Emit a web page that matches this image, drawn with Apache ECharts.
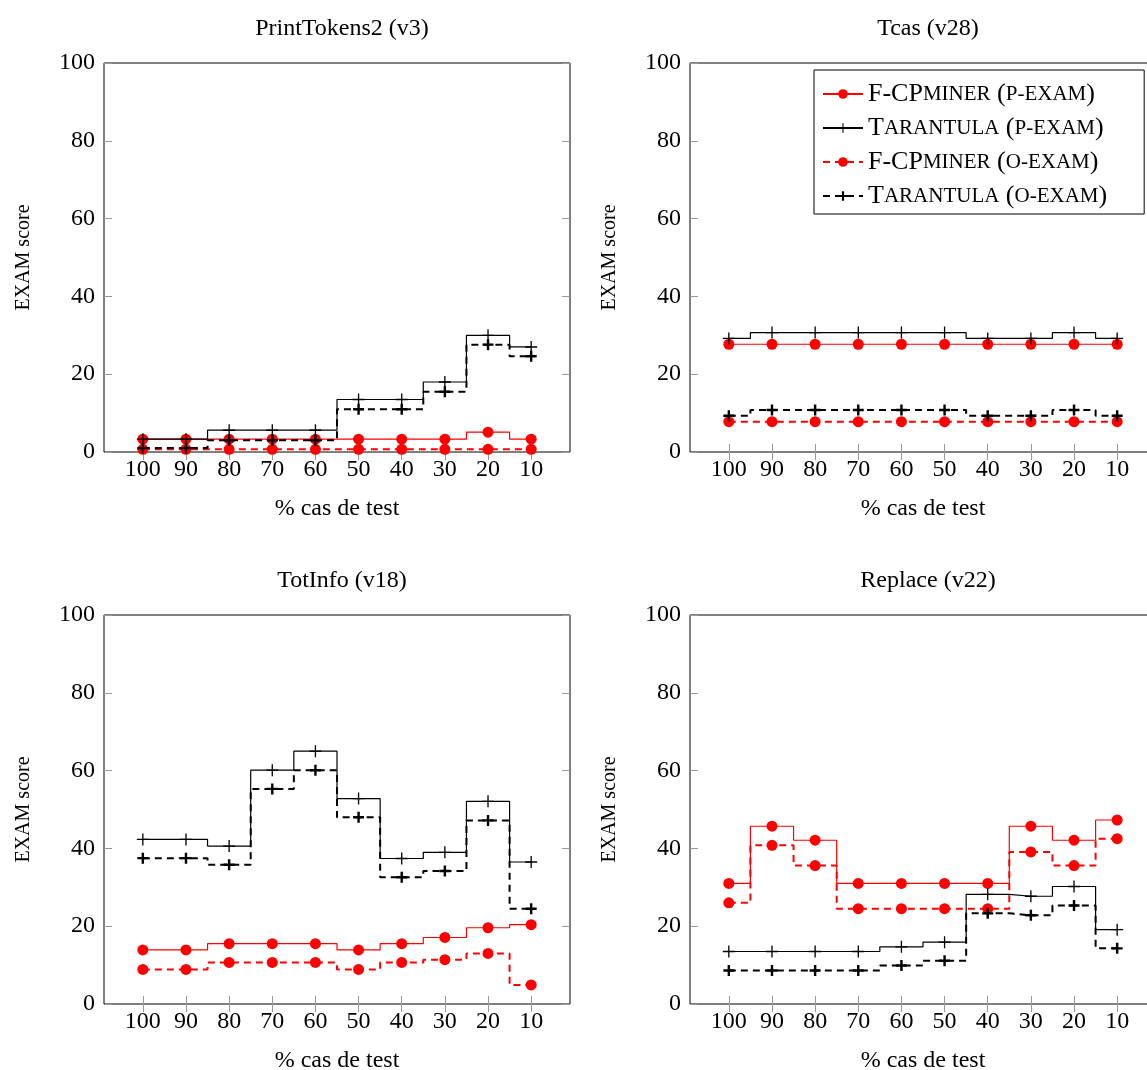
<!DOCTYPE html>
<html><head><meta charset="utf-8">
<script src="https://cdn.jsdelivr.net/npm/echarts@6/dist/echarts.min.js"></script>
<style>html,body{margin:0;padding:0;background:#fff}#c{width:1147px;height:1070px}</style>
</head><body><div id="c"></div>
<script>
const categories = [100, 90, 80, 70, 60, 50, 40, 30, 20, 10];
const yTicks = [0, 20, 40, 60, 80, 100];
const seriesNames = ['F-CPminer (p-exam)', 'Tarantula (p-exam)', 'F-CPminer (o-exam)', 'Tarantula (o-exam)'];
const panelTitles = ['PrintTokens2 (v3)', 'Tcas (v28)', 'TotInfo (v18)', 'Replace (v22)'];

// PrintTokens2 (v3)
const pt2_fcp_p = [3.3, 3.3, 3.3, 3.3, 3.3, 3.3, 3.3, 3.3, 5.1, 3.3];
const pt2_tar_p = [3.3, 3.3, 5.6, 5.6, 5.6, 13.5, 13.5, 18.0, 30.0, 27.0];
const pt2_fcp_o = [0.7, 0.7, 0.7, 0.7, 0.7, 0.7, 0.7, 0.7, 0.7, 0.7];
const pt2_tar_o = [1.0, 1.0, 3.0, 3.0, 3.0, 11.0, 11.0, 15.5, 27.6, 24.6];
// Tcas (v28)
const tcas_fcp_p = [27.7, 27.7, 27.7, 27.7, 27.7, 27.7, 27.7, 27.7, 27.7, 27.7];
const tcas_tar_p = [29.2, 30.7, 30.7, 30.7, 30.7, 30.7, 29.2, 29.2, 30.7, 29.2];
const tcas_fcp_o = [7.8, 7.8, 7.8, 7.8, 7.8, 7.8, 7.8, 7.8, 7.8, 7.8];
const tcas_tar_o = [9.3, 10.8, 10.8, 10.8, 10.8, 10.8, 9.3, 9.3, 10.8, 9.3];
// TotInfo (v18)
const tot_fcp_p = [13.9, 13.9, 15.5, 15.5, 15.5, 13.9, 15.5, 17.1, 19.6, 20.4];
const tot_tar_p = [42.3, 42.3, 40.6, 60.1, 65.0, 52.8, 37.4, 39.0, 52.1, 36.5];
const tot_fcp_o = [8.9, 8.9, 10.7, 10.7, 10.7, 8.9, 10.7, 11.4, 13.0, 4.9];
const tot_tar_o = [37.5, 37.5, 35.8, 55.3, 60.1, 48.0, 32.6, 34.2, 47.2, 24.5];
// Replace (v22)
const rep_fcp_p = [31.0, 45.7, 42.1, 31.0, 31.0, 31.0, 31.0, 45.7, 42.1, 47.3];
const rep_tar_p = [13.5, 13.5, 13.5, 13.5, 14.7, 15.9, 28.2, 27.7, 30.2, 19.1];
const rep_fcp_o = [26.0, 40.8, 35.6, 24.5, 24.5, 24.5, 24.5, 39.1, 35.6, 42.5];
const rep_tar_o = [8.6, 8.6, 8.6, 8.6, 9.9, 11.1, 23.3, 22.8, 25.3, 14.3];

const panels = [
  [pt2_fcp_p, pt2_tar_p, pt2_fcp_o, pt2_tar_o],
  [tcas_fcp_p, tcas_tar_p, tcas_fcp_o, tcas_tar_o],
  [tot_fcp_p, tot_tar_p, tot_fcp_o, tot_tar_o],
  [rep_fcp_p, rep_tar_p, rep_fcp_o, rep_tar_o]
];

const FONT = 'Liberation Serif';
const gridPos = [
  {left: 104, top: 63}, {left: 690, top: 63},
  {left: 104, top: 615}, {left: 690, top: 615}
];
const GW = 466, GH = 389;

const plusThin = 'path://M-0.11,-1 L0.11,-1 L0.11,-0.11 L1,-0.11 L1,0.11 L0.11,0.11 L0.11,1 L-0.11,1 L-0.11,0.11 L-1,0.11 L-1,-0.11 L-0.11,-0.11 Z';
const plusThick = 'path://M-0.22,-1 L0.22,-1 L0.22,-0.22 L1,-0.22 L1,0.22 L0.22,0.22 L0.22,1 L-0.22,1 L-0.22,0.22 L-1,0.22 L-1,-0.22 L-0.22,-0.22 Z';

const styles = [
  {color: '#ff0000', width: 1.2, type: 'solid', symbol: 'circle', size: 11},
  {color: '#000000', width: 1.2, type: 'solid', symbol: plusThin, size: 12},
  {color: '#ff0000', width: 2, type: [7, 5], symbol: 'circle', size: 11},
  {color: '#000000', width: 2, type: [7, 5], symbol: plusThick, size: 11}
];

const grids = [], xAxes = [], yAxes = [], series = [], titles = [];
const tickStyle = {show: true, inside: true, length: 8, lineStyle: {color: '#999', width: 1}};
gridPos.forEach((g, i) => {
  grids.push({left: g.left, top: g.top, width: GW, height: GH, outerBoundsMode: 'none', containLabel: false,
    show: true, borderColor: '#000', borderWidth: 1, backgroundColor: 'transparent'});
  xAxes.push({
    gridIndex: i, type: 'value', min: 1, max: 109, inverse: true, position: 'bottom',
    name: '% cas de test', nameLocation: 'middle', nameGap: 45,
    nameTextStyle: {fontFamily: FONT, fontSize: 24, color: '#000'},
    axisLine: {show: false}, splitLine: {show: false},
    axisTick: Object.assign({customValues: categories}, tickStyle),
    axisLabel: {customValues: categories, fontFamily: FONT, fontSize: 24, color: '#000', margin: 6}
  });
  xAxes.push({
    gridIndex: i, type: 'value', min: 1, max: 109, inverse: true, position: 'top',
    axisLine: {show: false}, splitLine: {show: false},
    axisTick: Object.assign({customValues: categories}, tickStyle),
    axisLabel: {show: false}
  });
  yAxes.push({
    gridIndex: i, type: 'value', min: 0, max: 100, interval: 20, position: 'left',
    name: 'EXAM score', nameLocation: 'middle', nameGap: 70,
    nameTextStyle: {fontFamily: FONT, fontSize: 20, color: '#000'},
    axisLine: {show: false}, splitLine: {show: false},
    axisTick: tickStyle,
    axisLabel: {fontFamily: FONT, fontSize: 24, color: '#000', margin: 9}
  });
  yAxes.push({
    gridIndex: i, type: 'value', min: 0, max: 100, interval: 20, position: 'right',
    axisLine: {show: false}, splitLine: {show: false},
    axisTick: tickStyle, axisLabel: {show: false}
  });
  titles.push({
    text: panelTitles[i], left: g.left + GW / 2, top: g.top - 51, textAlign: 'center',
    textStyle: {fontFamily: FONT, fontSize: 24, fontWeight: 'normal', color: '#000'}
  });
  panels[i].forEach((vals, k) => {
    const s = styles[k];
    series.push({
      name: seriesNames[k], type: 'line', step: 'middle',
      xAxisIndex: 2 * i, yAxisIndex: 2 * i,
      data: categories.map((c, j) => [c, vals[j]]),
      symbol: s.symbol, symbolSize: s.size,
      lineStyle: {color: s.color, width: s.width, type: s.type},
      itemStyle: {color: s.color},
      animation: false, z: 2 + k
    });
  });
});

const legendRich = {
  n: {fontFamily: FONT, fontSize: 26, color: '#000'},
  s: {fontFamily: FONT, fontSize: 21, color: '#000'}
};
const legendFmt = {
  'F-CPminer (p-exam)': '{n|F-CP}{s|MINER} {n|(}{s|P-EXAM}{n|)}',
  'Tarantula (p-exam)': '{n|T}{s|ARANTULA} {n|(}{s|P-EXAM}{n|)}',
  'F-CPminer (o-exam)': '{n|F-CP}{s|MINER} {n|(}{s|O-EXAM}{n|)}',
  'Tarantula (o-exam)': '{n|T}{s|ARANTULA} {n|(}{s|O-EXAM}{n|)}'
};

const chart = echarts.init(document.getElementById('c'), null, {renderer: 'canvas'});
chart.setOption({
  animation: false,
  backgroundColor: '#fff',
  title: titles,
  grid: grids, xAxis: xAxes, yAxis: yAxes, series: series,
  legend: {
    data: seriesNames, orient: 'vertical', left: 814, top: 70,
    itemWidth: 40, itemHeight: 12, itemGap: 8,
    padding: [11, 37, 5, 8],
    backgroundColor: '#fff', borderColor: '#000', borderWidth: 1,
    formatter: n => legendFmt[n],
    textStyle: {rich: legendRich, fontFamily: FONT, fontSize: 26, color: '#000'}
  }
});
</script></body></html>
